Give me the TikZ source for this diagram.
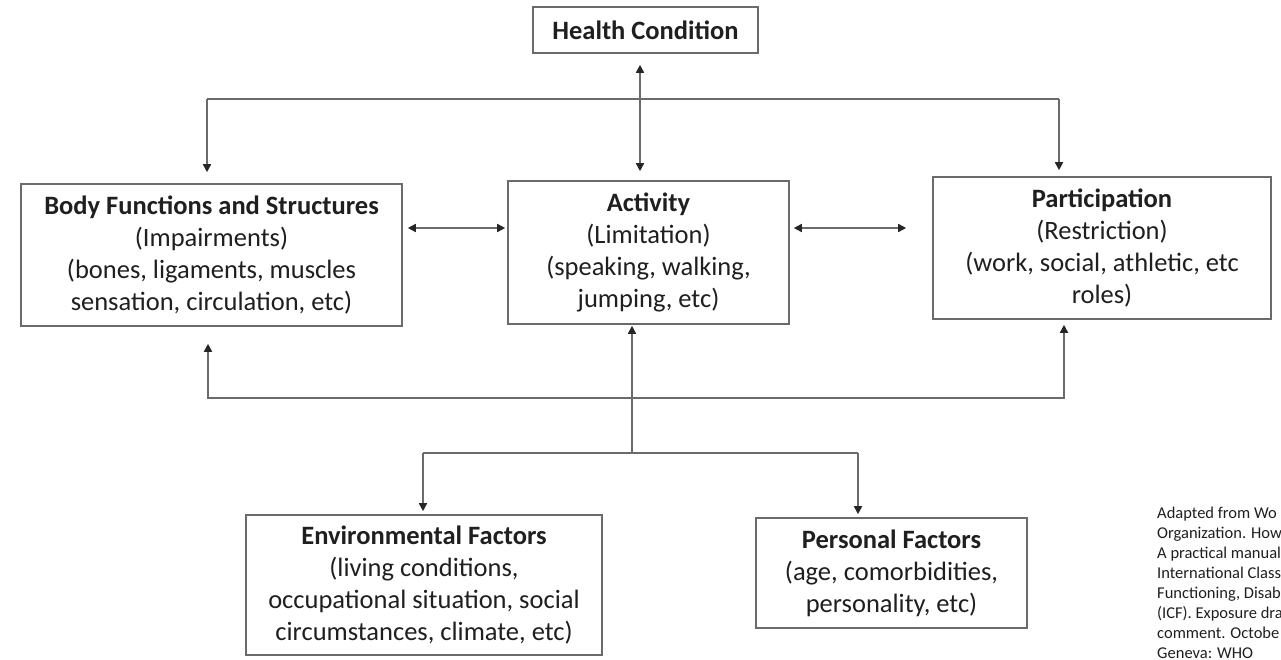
\documentclass[tikz,border=0pt]{standalone}
\usepackage{fontspec}
\setmainfont{Carlito}
\usetikzlibrary{arrows.meta}
\definecolor{ln}{gray}{0.42}
\definecolor{tp}{gray}{0.15}
\definecolor{tx}{gray}{0.12}
\begin{document}
\begin{tikzpicture}[x=1pt,y=-1pt,
  box/.style={draw=ln,line width=1.6pt,align=center,inner sep=0pt,text=tx,
    font=\fontsize{26.5}{31.9}\selectfont},
  conn/.style={draw=ln,line width=1.6pt},
  tipone/.style={-{Triangle[length=8pt,width=8pt,color=tp]}},
  tipboth/.style={{Triangle[length=8pt,width=8pt,color=tp]}-{Triangle[length=8pt,width=8pt,color=tp]}},
  citetext/.style={anchor=north west,align=left,inner sep=0pt,text=tx,
    font=\fontsize{16.5}{20}\selectfont}
]
\useasboundingbox (0,0) rectangle (1281,659);
\fill[white] (0,0) rectangle (1281,659);
\clip (0,0) rectangle (1281,659);

\node[box,minimum width=225pt,minimum height=46pt] (health) at (645.5,30) {\textbf{Health Condition}};
\node[box,minimum width=381pt,minimum height=142pt] (body) at (211.5,255)
  {\textbf{Body Functions and Structures}\\(Impairments)\\(bones, ligaments, muscles\\sensation, circulation, etc)};
\node[box,minimum width=281pt,minimum height=143pt] (act) at (648.5,252.5)
  {\textbf{Activity}\\(Limitation)\\(speaking, walking,\\jumping, etc)};
\node[box,minimum width=338pt,minimum height=142pt] (part) at (1102,248)
  {\textbf{Participation}\\(Restriction)\\(work, social, athletic, etc\\roles)};
\node[box,minimum width=356pt,minimum height=140pt] (env) at (424,585)
  {\textbf{Environmental Factors}\\(living conditions,\\occupational situation, social\\circumstances, climate, etc)};
\node[box,minimum width=271pt,minimum height=110pt] (pers) at (891.5,573)
  {\textbf{Personal Factors}\\(age, comorbidities,\\personality, etc)};

\node[citetext] (cite) at (1157,507)
  {Adapted from Wo\\Organization. How\\A practical manual\\International Class\\Functioning, Disab\\(ICF). Exposure dra\\comment. Octobe\\Geneva: WHO};

% Health <-> Activity
\coordinate (hx) at (640,0);
\draw[conn,tipboth,shorten <=11pt,shorten >=9pt] (hx |- health.south) -- (hx |- act.north);

% top bar
\coordinate (tl) at (207,99);
\coordinate (tr) at (1059,99);
\draw[conn] (tl) -- (tr);
\draw[conn,tipone,shorten >=11pt] (tl) -- (tl |- body.north);
\draw[conn,tipone,shorten >=6pt] (tr) -- (tr |- part.north);

% horizontal arrows
\coordinate (mid) at (0,228);
\draw[conn,tipboth,shorten <=5pt,shorten >=2pt] (body.east |- mid) -- (act.west |- mid);
\draw[conn,tipboth,shorten <=4pt,shorten >=26pt] (act.east |- mid) -- (part.west |- mid);

% bottom loop
\coordinate (bl) at (208,398);
\coordinate (br) at (1064,398);
\draw[conn,tipboth,shorten <=17pt,shorten >=5pt] (bl |- body.south) -- (bl) -- (br) -- (br |- part.south);

% activity to factors
\coordinate (j) at (632,453);
\coordinate (el) at (423,453);
\coordinate (er) at (858,453);
\draw[conn,tipone,shorten >=1pt] (j) -- (j |- act.south);
\draw[conn] (el) -- (er);
\draw[conn,tipone,shorten >=3pt] (el) -- (el |- env.north);
\draw[conn,tipone,shorten >=3pt] (er) -- (er |- pers.north);
\end{tikzpicture}
\end{document}
